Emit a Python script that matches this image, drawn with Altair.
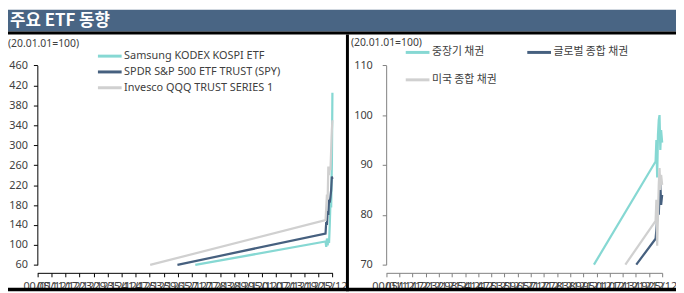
import altair as alt
import pandas as pd

# ---------------- data ----------------
TITLE = "주요 ETF 동향"
SUBTITLE = "(20.01.01=100)"
X_TICKS = list(range(22))
X_LABELS = ["00/01", "05/12", "11/12", "17/12", "23/12", "29/12", "35/12", "41/12",
            "47/12", "53/12", "59/12", "65/12", "71/12", "77/12", "83/12", "89/12",
            "95/12", "01/12", "07/12", "13/12", "19/12", "25/12"]

L_SERIES = ["Samsung KODEX KOSPI ETF", "SPDR S&P 500 ETF TRUST (SPY)", "Invesco QQQ TRUST SERIES 1"]
L_COLORS = ["#86d8d3", "#46607f", "#d0d0d0"]
L_ENTRY_X = [11.24, 9.97, 8.03]
L_ENTRY_Y = [60, 60, 60]
L_TAIL_X = [20.51, 20.56, 20.61, 20.66, 20.71, 20.76, 20.81, 20.86, 20.91, 20.96, 21.0]
L_SAMSUNG = [107, 96, 113, 99, 110, 104, 140, 185, 175, 260, 405]
L_SPY = [123, 146, 140, 168, 160, 192, 185, 196, 210, 237, 232]
L_QQQ = [150, 175, 201, 190, 257, 240, 255, 250, 290, 330, 350]
L_Y_TICKS = [60, 100, 140, 180, 220, 260, 300, 340, 380, 420, 460]

R_SERIES = ["중장기 채권", "글로벌 종합 채권", "미국 종합 채권"]
R_COLORS = ["#86d8d3", "#46607f", "#d0d0d0"]
R_ENTRY_X = [15.81, 19.03, 18.2]
R_ENTRY_Y = [70, 70, 70]
R_TAIL_X = [20.5, 20.56, 20.62, 20.68, 20.74, 20.8, 20.86, 20.92, 21.0]
R_MID = [90.7, 95, 87.5, 96, 99, 100, 93, 97, 94.5]
R_GLOBAL = [75.2, 77, 79, 81, 80, 84, 86.5, 82, 84]
R_US = [78.8, 83, 73.8, 80, 86, 89.4, 85, 88, 86]
R_Y_TICKS = [70, 80, 90, 100, 110]

FONT = "'Noto Sans', 'Noto Sans CJK KR', sans-serif"
KFONT = "'Noto Sans CJK KR', 'Noto Sans', sans-serif"
TXT = "#404040"


def build(series, ex, ey, tx, vals):
    rows = []
    for name, x0, y0, v in zip(series, ex, ey, vals):
        rows.append({"s": name, "x": x0, "v": y0})
        for xx, vv in zip(tx, v):
            rows.append({"s": name, "x": xx, "v": vv})
    return pd.DataFrame(rows)


df_left = build(L_SERIES, L_ENTRY_X, L_ENTRY_Y, L_TAIL_X, [L_SAMSUNG, L_SPY, L_QQQ])
df_right = build(R_SERIES, R_ENTRY_X, R_ENTRY_Y, R_TAIL_X, [R_MID, R_GLOBAL, R_US])

W, H = 676, 285
label_expr = "[" + ",".join("'%s'" % s for s in X_LABELS) + "][datum.value]"


def x_axis(col):
    return alt.Axis(orient="bottom", offset=-18.7, values=X_TICKS, labelExpr=label_expr,
                    labelOverlap=False, labelFlush=False, grid=False, title=None,
                    domainColor=col, tickColor=col, tickSize=4, labelPadding=4,
                    labelFontSize=11, labelColor=TXT, labelFont=FONT)


def y_axis(col, off, vals, pad):
    return alt.Axis(orient="left", offset=off, values=vals, grid=False, title=None,
                    domainColor=col, tickColor=col, tickSize=4, labelPadding=pad,
                    labelFontSize=11, labelColor=TXT, labelFont=FONT, labelFlush=False)


left = alt.Chart(df_left).mark_line(strokeWidth=2.25).encode(
    x=alt.X("x:Q", scale=alt.Scale(domain=[0, 21], range=[29.7, 328.3], nice=False, zero=False),
            axis=x_axis("#000000")),
    y=alt.Y("v:Q", scale=alt.Scale(domain=[60, 460], range=[258.3, 56.3], nice=False, zero=False),
            axis=y_axis("#000000", -29.7, L_Y_TICKS, 6)),
    color=alt.Color("s:N", scale=alt.Scale(domain=L_SERIES, range=L_COLORS),
                    legend=alt.Legend(orient="none", legendX=97.5, legendY=41.5, title=None,
                                      symbolType="M-4,0H4", symbolSize=36, symbolStrokeWidth=3,
                                      labelOffset=9, labelFontSize=11, labelColor=TXT,
                                      labelFont=FONT, padding=0, rowPadding=3, direction="vertical")),
)

right = alt.Chart(df_right).mark_line(strokeWidth=2.25).encode(
    x=alt.X("x:Q", scale=alt.Scale(domain=[0, 21], range=[382.7, 662], nice=False, zero=False),
            axis=x_axis("#7f7f7f")),
    y=alt.Y("v:Q", scale=alt.Scale(domain=[70, 110], range=[258, 56.3], nice=False, zero=False),
            axis=y_axis("#7f7f7f", -382.7, R_Y_TICKS, 10)),
    color=alt.Color("s:N", scale=alt.Scale(domain=R_SERIES, range=R_COLORS),
                    legend=alt.Legend(orient="none", legendX=409, legendY=37.5, title=None,
                                      symbolType="M-4,0H4", symbolSize=36, symbolStrokeWidth=3,
                                      labelOffset=9, labelFontSize=11, labelColor=TXT,
                                      labelFont=KFONT, padding=0, rowPadding=15, columns=2,
                                      columnPadding=24, direction="horizontal")),
)

bar = alt.Chart().mark_rect(color="#496584").encode(
    x=alt.value(0), x2=alt.value(W), y=alt.value(0), y2=alt.value(22))
bar_line = alt.Chart().mark_rect(color="#000000").encode(
    x=alt.value(0), x2=alt.value(W), y=alt.value(22), y2=alt.value(25))
divider = alt.Chart().mark_rect(color="#000000").encode(
    x=alt.value(342), x2=alt.value(345), y=alt.value(25), y2=alt.value(H))
bottom = alt.Chart().mark_rect(color="#000000").encode(
    x=alt.value(0), x2=alt.value(W), y=alt.value(281.5), y2=alt.value(H))

title = alt.Chart().mark_text(align="left", baseline="middle", fontSize=17, fontWeight="bold",
                              color="white", font=KFONT).encode(
    x=alt.value(2), y=alt.value(11.5), text=alt.value(TITLE))
sub_l = alt.Chart().mark_text(align="left", baseline="middle", fontSize=10.5, color=TXT, font=FONT).encode(
    x=alt.value(0), y=alt.value(34.5), text=alt.value(SUBTITLE))
sub_r = alt.Chart().mark_text(align="left", baseline="middle", fontSize=10.5, color=TXT, font=FONT).encode(
    x=alt.value(347), y=alt.value(33.5), text=alt.value(SUBTITLE))

chart = alt.layer(bar, bar_line, divider, bottom, title, sub_l, sub_r, left, right).resolve_scale(
    x="independent", y="independent", color="independent"
).properties(
    width=W, height=H, autosize=alt.AutoSizeParams(type="none"), padding=0, background="white"
).configure_view(stroke=None)

chart.save("out.html", embed_options={"renderer": "svg", "actions": False})
